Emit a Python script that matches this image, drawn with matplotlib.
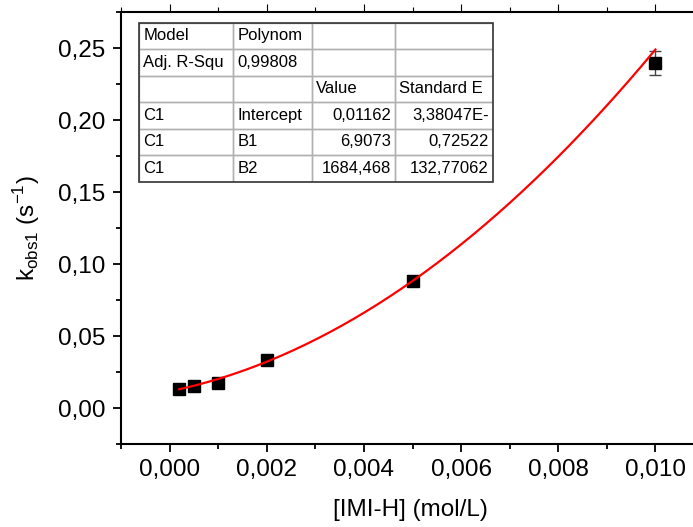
import numpy as np
import matplotlib
matplotlib.use("Agg")
import matplotlib.pyplot as plt
from matplotlib.ticker import MultipleLocator, FuncFormatter
from matplotlib.patches import Rectangle

plt.rcParams['font.family'] = ['Liberation Sans', 'DejaVu Sans']
plt.rcParams['mathtext.fontset'] = 'custom'
plt.rcParams['mathtext.rm'] = 'Liberation Sans'

# measured rate constants vs imidazole concentration
conc = [0.0002, 0.0005, 0.001, 0.002, 0.005, 0.010]
kobs = [0.0132, 0.0153, 0.0172, 0.0334, 0.0885, 0.2395]
kerr = [0, 0, 0, 0, 0, 0.0083]

# polynomial fit results (Origin report table)
intercept = 0.01162
b1 = 6.9073
b2 = 1684.468
table_rows = [
    ["Model", "Polynom", "", ""],
    ["Adj. R-Squ", "0,99808", "", ""],
    ["", "", "Value", "Standard E"],
    ["C1", "Intercept", "0,01162", "3,38047E-"],
    ["C1", "B1", "6,9073", "0,72522"],
    ["C1", "B2", "1684,468", "132,77062"],
]
# alignment per cell: numbers right, text left
right_cells = {(3, 2), (3, 3), (4, 2), (4, 3), (5, 2), (5, 3)}
col_widths = [94, 78.4, 83.3, 97.7]


def comma(v, pos, nd):
    return f"{v:.{nd}f}".replace(".", ",")


fig = plt.figure(figsize=(6.93, 5.27), dpi=100)
ax = fig.add_axes([121 / 693, 83 / 527, 583 / 693, 431.7 / 527])

ax.errorbar(conc, kobs, yerr=[kerr, kerr], fmt='s', color='black', ms=8,
            ecolor='#444444', elinewidth=1.0, capsize=4, capthick=1.0, zorder=3)
xf = np.linspace(conc[0], conc[-1], 200)
ax.plot(xf, intercept + b1 * xf + b2 * xf ** 2, color='red', lw=1.6, zorder=4)

ax.set_xlim(-0.001, 0.011)
ax.set_ylim(-0.025, 0.275)
ax.xaxis.set_major_locator(MultipleLocator(0.002))
ax.xaxis.set_minor_locator(MultipleLocator(0.001))
ax.yaxis.set_major_locator(MultipleLocator(0.05))
ax.yaxis.set_minor_locator(MultipleLocator(0.025))
ax.xaxis.set_major_formatter(FuncFormatter(lambda v, p: comma(v, p, 3)))
ax.yaxis.set_major_formatter(FuncFormatter(lambda v, p: comma(v, p, 2)))

for s in ['left', 'bottom', 'top']:
    ax.spines[s].set_linewidth(1.5)
ax.spines['right'].set_visible(False)
ax.tick_params(which='major', direction='out', length=6, width=1.3,
               labelsize=17.5, pad=5)
ax.tick_params(which='minor', direction='out', length=3.5, width=1.3)
# faint ticks along the top frame
ax.tick_params(axis='x', which='both', top=True, labeltop=False)
for t in ax.xaxis.get_major_ticks() + ax.xaxis.get_minor_ticks():
    t.tick2line.set_color('#c8c8c8')
    t.tick2line.set_markeredgewidth(0.8)

ax.set_xlabel("[IMI-H] (mol/L)", fontsize=17.5)
ax.set_ylabel(r"k$_{\mathregular{obs1}}$ (s$^{\mathregular{-1}}$)", fontsize=17.5)
ax.xaxis.set_label_coords(0.497, -0.128)
ax.yaxis.set_label_coords(-0.135, 0.5)

# fit report table
tab = fig.add_axes([139.3 / 693, (527 - 181.7) / 527, 353.4 / 693, 159 / 527])
tab.set_xlim(0, sum(col_widths))
tab.set_ylim(len(table_rows), 0)
tab.axis('off')
edges = np.concatenate([[0], np.cumsum(col_widths)])
for r, row in enumerate(table_rows):
    for c, txt in enumerate(row):
        tab.add_patch(Rectangle((edges[c], r), col_widths[c], 1, fill=False,
                                edgecolor='#b0b0b0', lw=1.0))
        if (r, c) in right_cells:
            tab.text(edges[c + 1] - 4, r + 0.5, txt, ha='right', va='center', fontsize=12)
        else:
            tab.text(edges[c] + 4, r + 0.5, txt, ha='left', va='center', fontsize=12)
tab.add_patch(Rectangle((0, 0), sum(col_widths), len(table_rows), fill=False,
                        edgecolor='#333333', lw=1.2, clip_on=False))

fig.savefig("out.png", dpi=100)
